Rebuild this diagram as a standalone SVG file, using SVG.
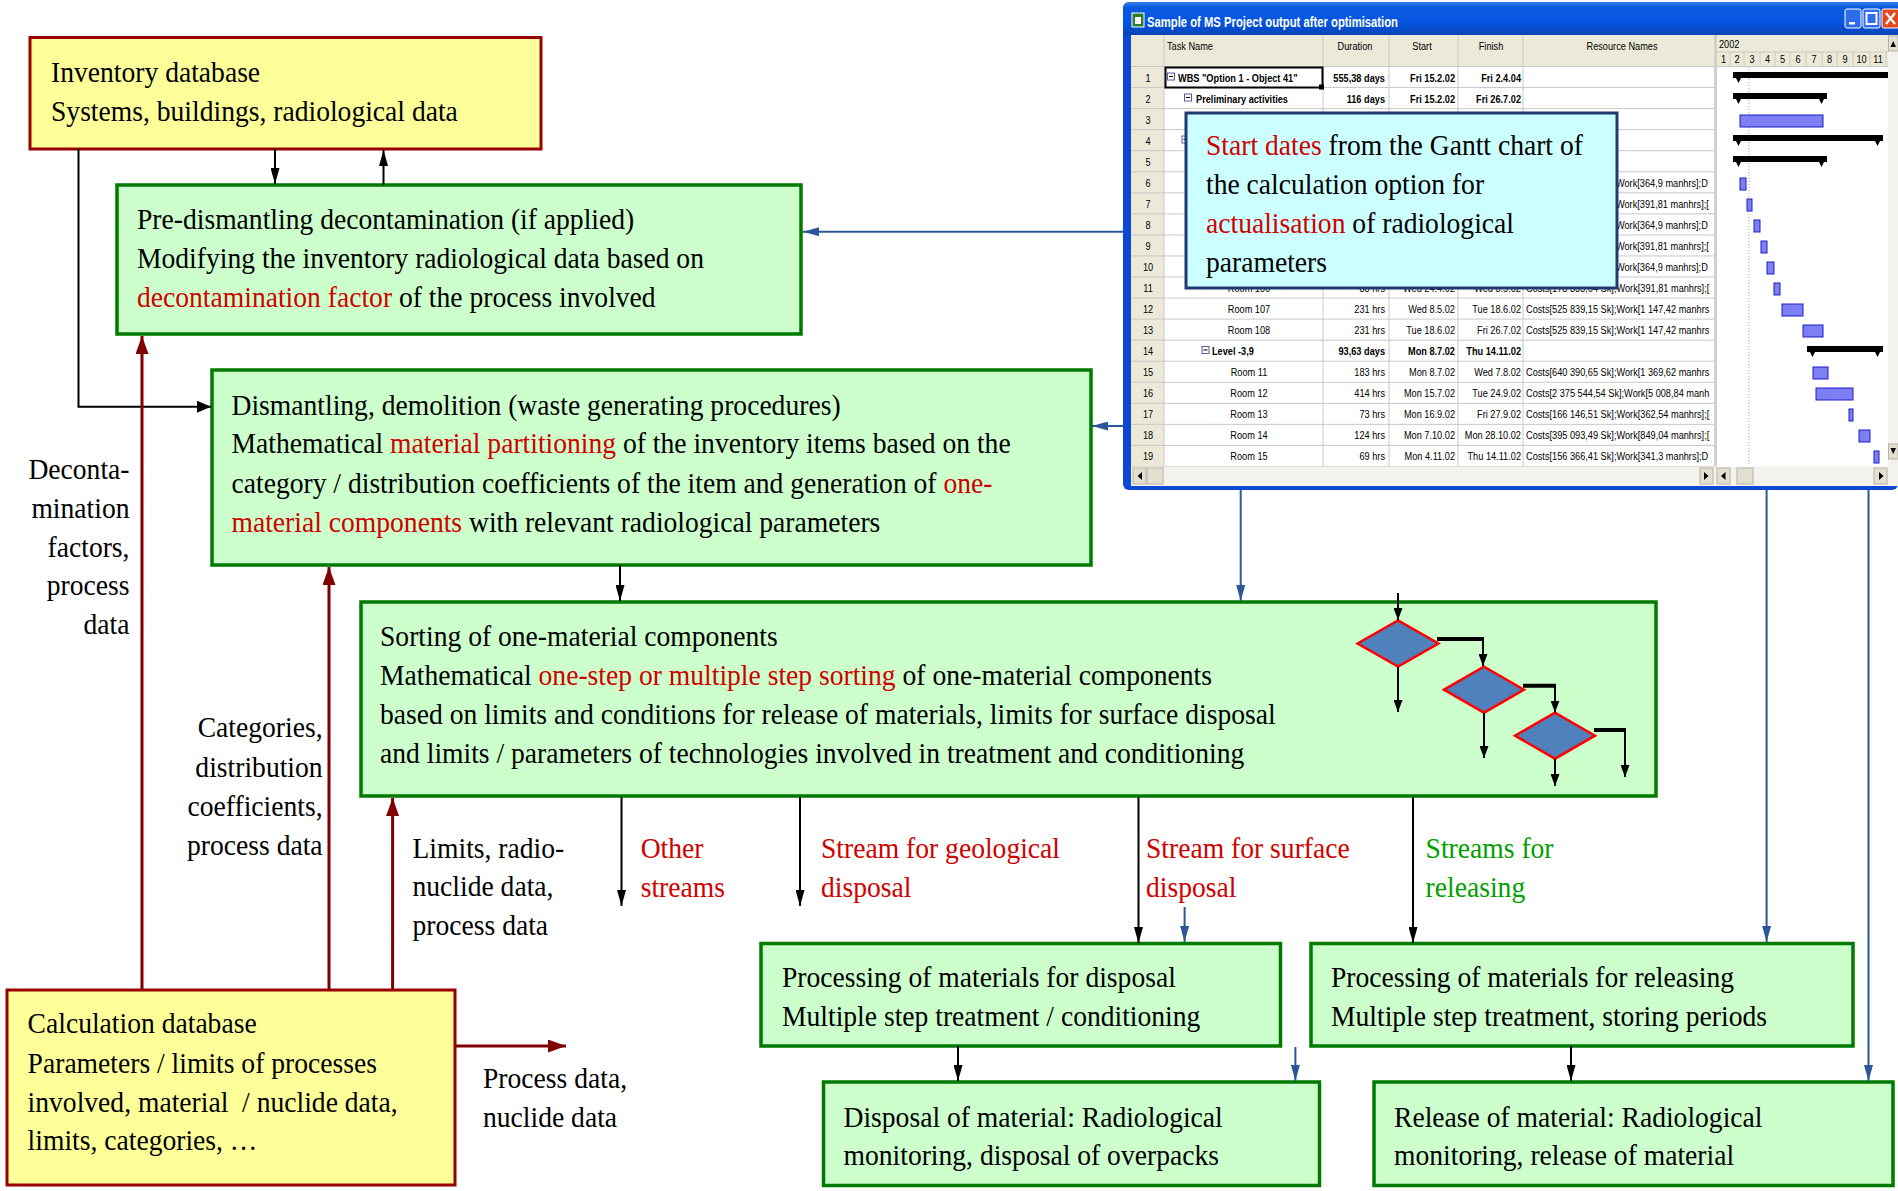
<svg xmlns="http://www.w3.org/2000/svg" width="1898" height="1191" viewBox="0 0 1898 1191">
<style>
.bg{fill:#CCFFCC;stroke:#007A00;stroke-width:3.5}
.by{fill:#FFFF99;stroke:#990000;stroke-width:3}
.t{font-family:"Liberation Serif","Times New Roman",serif;font-size:30px;fill:#000}
.r{fill:#D00000}
.gn{fill:#00A000}
.ea{text-anchor:end}
.k{stroke:#000;stroke-width:2;fill:none}
.bl{stroke:#2B5797;stroke-width:2;fill:none}
.rd{stroke:#800000;stroke-width:3;fill:none}
.tx{font-family:"Liberation Sans",Arial,sans-serif;font-size:11.5px;fill:#000}
.b{font-weight:bold}
.mid{text-anchor:middle}
.grid{stroke:#C8C8C8;stroke-width:1}
.bar{fill:#7F7FF5;stroke:#1C1CC8;stroke-width:1}
.dia{fill:#4F81BD;stroke:#FF0000;stroke-width:2.5}
</style>
<defs>
<marker id="mk" viewBox="0 0 16 9" refX="16" refY="4.5" markerWidth="16" markerHeight="9" markerUnits="userSpaceOnUse" orient="auto"><path d="M0,0L16,4.5L0,9z" fill="#000"/></marker>
<marker id="mb" viewBox="0 0 16 9" refX="16" refY="4.5" markerWidth="16" markerHeight="9" markerUnits="userSpaceOnUse" orient="auto"><path d="M0,0L16,4.5L0,9z" fill="#2B5797"/></marker>
<marker id="mr" viewBox="0 0 18 13" refX="18" refY="6.5" markerWidth="18" markerHeight="13" markerUnits="userSpaceOnUse" orient="auto"><path d="M0,0L18,6.5L0,13z" fill="#800000"/></marker>
<marker id="ms" viewBox="0 0 12 9" refX="12" refY="4.5" markerWidth="12" markerHeight="9" markerUnits="userSpaceOnUse" orient="auto"><path d="M0,0L12,4.5L0,9z" fill="#000"/></marker>
<marker id="mt" viewBox="0 0 14 12" refX="14" refY="6" markerWidth="14" markerHeight="12" markerUnits="userSpaceOnUse" orient="auto"><path d="M0,0L14,6L0,12z" fill="#000"/></marker>
<linearGradient id="tb" x1="0" y1="0" x2="0" y2="1"><stop offset="0" stop-color="#3B7FEA"/><stop offset=".15" stop-color="#0A5BE0"/><stop offset=".6" stop-color="#0555E2"/><stop offset="1" stop-color="#0843B8"/></linearGradient>
<clipPath id="cres"><rect x="1524" y="66" width="189" height="401"/></clipPath>
</defs>
<rect width="1898" height="1191" fill="#fff"/>

<!-- MS Project window -->
<g id="ms-project">
<rect x="1123" y="2" width="775" height="488" rx="6" fill="#0B48D6"/>
<path d="M1123,35V10Q1123,2 1131,2H1898V35Z" fill="url(#tb)"/>
<rect x="1132" y="13" width="12" height="14" fill="#2E7D32" stroke="#fff" stroke-width="1"/>
<rect x="1135" y="17" width="6" height="7" fill="#fff"/>
<text x="1147" y="27" font-family="Liberation Sans,Arial,sans-serif" font-weight="bold" font-size="14" fill="#fff" textLength="251" lengthAdjust="spacingAndGlyphs">Sample of MS Project output after optimisation</text>
<rect x="1845" y="9" width="16" height="19" rx="2" fill="#2D6CEB" stroke="#fff" stroke-width="1"/>
<rect x="1849" y="22" width="6" height="2.5" fill="#fff"/>
<rect x="1863" y="9" width="17" height="19" rx="2" fill="#2D6CEB" stroke="#fff" stroke-width="1"/>
<rect x="1866.5" y="13" width="10" height="11" fill="none" stroke="#fff" stroke-width="2"/>
<rect x="1882" y="9" width="17" height="19" rx="2" fill="#E2481E" stroke="#fff" stroke-width="1"/>
<path d="M1886,13L1895,24M1895,13L1886,24" stroke="#fff" stroke-width="2.2"/>
<rect x="1131" y="35" width="767" height="451" fill="#fff"/>
<!-- headers -->
<rect x="1131" y="35" width="583" height="31.5" fill="#ECE9D8"/>
<rect x="1131" y="35" width="33" height="431.5" fill="#ECE9D8"/>
<rect x="1717" y="35" width="171" height="31.5" fill="#ECE9D8"/>
<rect x="1714" y="35" width="3" height="451" fill="#D4D0C8"/>
<g class="grid">
<path d="M1131,66.5H1714M1131,87.55H1714M1131,108.6H1714M1131,129.65H1714M1131,150.7H1714M1131,171.75H1714M1131,192.8H1714M1131,213.85H1714M1131,234.9H1714M1131,255.95H1714M1131,277H1714M1131,298.05H1714M1131,319.1H1714M1131,340.15H1714M1131,361.2H1714M1131,382.25H1714M1131,403.3H1714M1131,424.35H1714M1131,445.4H1714M1131,466.45H1714"/>
<path d="M1164,35V466.5M1323,35V466.5M1389,35V466.5M1458,35V466.5M1523,35V466.5"/>
<path d="M1717,52H1888M1717,66.5H1888M1730,52V66.5M1744,52V66.5M1760,52V66.5M1775,52V66.5M1790,52V66.5M1806,52V66.5M1822,52V66.5M1837,52V66.5M1853,52V66.5M1870,52V66.5M1886,52V66.5"/>
</g>
<text class="tx" transform="matrix(.8 0 0 1 1167 50)">Task Name</text>
<text class="tx mid" transform="matrix(.8 0 0 1 1355 50)">Duration</text>
<text class="tx mid" transform="matrix(.8 0 0 1 1422 50)">Start</text>
<text class="tx mid" transform="matrix(.8 0 0 1 1491 50)">Finish</text>
<text class="tx mid" transform="matrix(.8 0 0 1 1622 50)">Resource Names</text>
<text class="tx" transform="matrix(.8 0 0 1 1719 48)">2002</text>
<g class="tx mid">
<text transform="matrix(.8 0 0 1 1723.5 63)">1</text><text transform="matrix(.8 0 0 1 1737 63)">2</text><text transform="matrix(.8 0 0 1 1752 63)">3</text><text transform="matrix(.8 0 0 1 1767.5 63)">4</text><text transform="matrix(.8 0 0 1 1782.5 63)">5</text><text transform="matrix(.8 0 0 1 1798 63)">6</text><text transform="matrix(.8 0 0 1 1814 63)">7</text><text transform="matrix(.8 0 0 1 1829.5 63)">8</text><text transform="matrix(.8 0 0 1 1845 63)">9</text><text transform="matrix(.8 0 0 1 1861.5 63)">10</text><text transform="matrix(.8 0 0 1 1878 63)">11</text>
</g>
<!-- row numbers -->
<g class="tx mid">
<text transform="matrix(.8 0 0 1 1148 81.5)">1</text><text transform="matrix(.8 0 0 1 1148 102.6)">2</text><text transform="matrix(.8 0 0 1 1148 123.6)">3</text><text transform="matrix(.8 0 0 1 1148 144.7)">4</text><text transform="matrix(.8 0 0 1 1148 165.7)">5</text><text transform="matrix(.8 0 0 1 1148 186.8)">6</text><text transform="matrix(.8 0 0 1 1148 207.8)">7</text><text transform="matrix(.8 0 0 1 1148 228.9)">8</text><text transform="matrix(.8 0 0 1 1148 249.9)">9</text><text transform="matrix(.8 0 0 1 1148 271)">10</text><text transform="matrix(.8 0 0 1 1148 292)">11</text><text transform="matrix(.8 0 0 1 1148 313)">12</text><text transform="matrix(.8 0 0 1 1148 334)">13</text><text transform="matrix(.8 0 0 1 1148 355)">14</text><text transform="matrix(.8 0 0 1 1148 376)">15</text><text transform="matrix(.8 0 0 1 1148 397)">16</text><text transform="matrix(.8 0 0 1 1148 418)">17</text><text transform="matrix(.8 0 0 1 1148 439)">18</text><text transform="matrix(.8 0 0 1 1148 460.4)">19</text>
</g>
<!-- row 1 selection -->
<rect x="1165.5" y="67.5" width="157" height="20" fill="none" stroke="#000" stroke-width="2"/>
<rect x="1319" y="84.5" width="5" height="5" fill="#000"/>
<!-- expand boxes -->
<g fill="#fff" stroke="#5A5AA0" stroke-width="1">
<rect x="1167.5" y="73" width="7" height="7"/><rect x="1184.5" y="94" width="7" height="7"/><rect x="1182" y="136" width="7" height="7"/><rect x="1202" y="346.5" width="7" height="7"/>
</g>
<path d="M1169,76.5H1173M1186,97.5H1190M1183.5,139.5H1187.5M1203.5,350H1207.5" stroke="#000" stroke-width="1"/>
<!-- task column -->
<text class="tx b" transform="matrix(.8 0 0 1 1178 81.5)">WBS "Option 1 - Object 41"</text>
<text class="tx b" transform="matrix(.8 0 0 1 1196 102.6)">Preliminary activities</text>
<text class="tx b" transform="matrix(.8 0 0 1 1212 355)">Level -3,9</text>
<g class="tx mid">
<text transform="matrix(.8 0 0 1 1249 292)">Room 106</text><text transform="matrix(.8 0 0 1 1249 313)">Room 107</text><text transform="matrix(.8 0 0 1 1249 334)">Room 108</text><text transform="matrix(.8 0 0 1 1249 376)">Room 11</text><text transform="matrix(.8 0 0 1 1249 397)">Room 12</text><text transform="matrix(.8 0 0 1 1249 418)">Room 13</text><text transform="matrix(.8 0 0 1 1249 439)">Room 14</text><text transform="matrix(.8 0 0 1 1249 460.4)">Room 15</text>
</g>
<!-- duration -->
<g class="tx ea">
<text class="b" transform="matrix(.8 0 0 1 1385 81.5)">555,38 days</text><text class="b" transform="matrix(.8 0 0 1 1385 102.6)">116 days</text><text transform="matrix(.8 0 0 1 1385 292)">88 hrs</text><text transform="matrix(.8 0 0 1 1385 313)">231 hrs</text><text transform="matrix(.8 0 0 1 1385 334)">231 hrs</text><text class="b" transform="matrix(.8 0 0 1 1385 355)">93,63 days</text><text transform="matrix(.8 0 0 1 1385 376)">183 hrs</text><text transform="matrix(.8 0 0 1 1385 397)">414 hrs</text><text transform="matrix(.8 0 0 1 1385 418)">73 hrs</text><text transform="matrix(.8 0 0 1 1385 439)">124 hrs</text><text transform="matrix(.8 0 0 1 1385 460.4)">69 hrs</text>
</g>
<!-- start -->
<g class="tx ea">
<text class="b" transform="matrix(.8 0 0 1 1455 81.5)">Fri 15.2.02</text><text class="b" transform="matrix(.8 0 0 1 1455 102.6)">Fri 15.2.02</text><text transform="matrix(.8 0 0 1 1455 292)">Wed 24.4.02</text><text transform="matrix(.8 0 0 1 1455 313)">Wed 8.5.02</text><text transform="matrix(.8 0 0 1 1455 334)">Tue 18.6.02</text><text class="b" transform="matrix(.8 0 0 1 1455 355)">Mon 8.7.02</text><text transform="matrix(.8 0 0 1 1455 376)">Mon 8.7.02</text><text transform="matrix(.8 0 0 1 1455 397)">Mon 15.7.02</text><text transform="matrix(.8 0 0 1 1455 418)">Mon 16.9.02</text><text transform="matrix(.8 0 0 1 1455 439)">Mon 7.10.02</text><text transform="matrix(.8 0 0 1 1455 460.4)">Mon 4.11.02</text>
</g>
<!-- finish -->
<g class="tx ea">
<text class="b" transform="matrix(.8 0 0 1 1521 81.5)">Fri 2.4.04</text><text class="b" transform="matrix(.8 0 0 1 1521 102.6)">Fri 26.7.02</text><text transform="matrix(.8 0 0 1 1521 292)">Wed 8.5.02</text><text transform="matrix(.8 0 0 1 1521 313)">Tue 18.6.02</text><text transform="matrix(.8 0 0 1 1521 334)">Fri 26.7.02</text><text class="b" transform="matrix(.8 0 0 1 1521 355)">Thu 14.11.02</text><text transform="matrix(.8 0 0 1 1521 376)">Wed 7.8.02</text><text transform="matrix(.8 0 0 1 1521 397)">Tue 24.9.02</text><text transform="matrix(.8 0 0 1 1521 418)">Fri 27.9.02</text><text transform="matrix(.8 0 0 1 1521 439)">Mon 28.10.02</text><text transform="matrix(.8 0 0 1 1521 460.4)">Thu 14.11.02</text>
</g>
<!-- resources -->
<g class="tx" clip-path="url(#cres)">
<text transform="matrix(.8 0 0 1 1616 186.8)">Work[364,9 manhrs];D</text><text transform="matrix(.8 0 0 1 1616 207.8)">Work[391,81 manhrs];[</text><text transform="matrix(.8 0 0 1 1616 228.9)">Work[364,9 manhrs];D</text><text transform="matrix(.8 0 0 1 1616 249.9)">Work[391,81 manhrs];[</text><text transform="matrix(.8 0 0 1 1616 271)">Work[364,9 manhrs];D</text>
<text transform="matrix(.8 0 0 1 1526 292)">Costs[178 333,64 Sk];Work[391,81 manhrs];[</text>
<text transform="matrix(.8 0 0 1 1526 313)">Costs[525 839,15 Sk];Work[1 147,42 manhrs</text>
<text transform="matrix(.8 0 0 1 1526 334)">Costs[525 839,15 Sk];Work[1 147,42 manhrs</text>
<text transform="matrix(.8 0 0 1 1526 376)">Costs[640 390,65 Sk];Work[1 369,62 manhrs</text>
<text transform="matrix(.8 0 0 1 1526 397)">Costs[2 375 544,54 Sk];Work[5 008,84 manh</text>
<text transform="matrix(.8 0 0 1 1526 418)">Costs[166 146,51 Sk];Work[362,54 manhrs];[</text>
<text transform="matrix(.8 0 0 1 1526 439)">Costs[395 093,49 Sk];Work[849,04 manhrs];[</text>
<text transform="matrix(.8 0 0 1 1526 460.4)">Costs[156 366,41 Sk];Work[341,3 manhrs];D</text>
</g>
<!-- gantt -->
<path d="M1749,67V466" stroke="#9A9A9A" stroke-width="1" stroke-dasharray="1,2"/>
<g fill="#000">
<rect x="1733" y="72" width="155" height="6"/><polygon points="1733,72 1744,72 1738.5,83"/>
<rect x="1733" y="93" width="94" height="6"/><polygon points="1733,93 1744,93 1738.5,104"/><polygon points="1816,93 1827,93 1821.5,104"/>
<rect x="1733" y="135" width="150" height="6"/><polygon points="1733,135 1744,135 1738.5,146"/><polygon points="1872,135 1883,135 1877.5,146"/>
<rect x="1733" y="156" width="94" height="6"/><polygon points="1733,156 1744,156 1738.5,167"/><polygon points="1816,156 1827,156 1821.5,167"/>
<rect x="1807" y="346" width="76" height="6"/><polygon points="1807,346 1818,346 1812.5,357"/><polygon points="1872,346 1883,346 1877.5,357"/>
</g>
<g class="bar">
<rect x="1740" y="115" width="83" height="12"/>
<rect x="1740" y="178" width="6" height="12"/><rect x="1747" y="199" width="5" height="12"/><rect x="1754" y="220" width="6" height="12"/><rect x="1761" y="241" width="6" height="12"/><rect x="1767" y="262" width="7" height="12"/><rect x="1774" y="283" width="6" height="12"/><rect x="1782" y="304" width="21" height="12"/><rect x="1803" y="325" width="20" height="12"/><rect x="1813" y="367" width="15" height="12"/><rect x="1816" y="388" width="37" height="12"/><rect x="1849" y="409" width="4" height="12"/><rect x="1859" y="430" width="11" height="12"/><rect x="1874" y="451" width="5" height="12"/>
</g>
<!-- scrollbars -->
<rect x="1888" y="35" width="10" height="431" fill="#F3F2EC"/>
<rect x="1888.5" y="36" width="9.5" height="15" fill="#E3E0D2" stroke="#B8B4A4" stroke-width="1"/>
<polygon points="1890.5,47 1896,47 1893.2,41" fill="#000"/>
<rect x="1888.5" y="444" width="9.5" height="15" fill="#E3E0D2" stroke="#B8B4A4" stroke-width="1"/>
<polygon points="1890.5,448 1896,448 1893.2,454" fill="#000"/>
<rect x="1131" y="466.5" width="767" height="19.5" fill="#F3F2EC"/>
<rect x="1133" y="468" width="13" height="16" fill="#E3E0D2" stroke="#B8B4A4" stroke-width="1"/>
<polygon points="1142,472 1142,480 1137.5,476" fill="#000"/>
<rect x="1147" y="468" width="16" height="16" fill="#E3E0D2" stroke="#B8B4A4" stroke-width="1"/>
<rect x="1700" y="468" width="13" height="16" fill="#E3E0D2" stroke="#B8B4A4" stroke-width="1"/>
<polygon points="1704,472 1704,480 1708.5,476" fill="#000"/>
<rect x="1717" y="468" width="13" height="16" fill="#E3E0D2" stroke="#B8B4A4" stroke-width="1"/>
<polygon points="1725.5,472 1725.5,480 1721,476" fill="#000"/>
<rect x="1737" y="468" width="16" height="16" fill="#E3E0D2" stroke="#B8B4A4" stroke-width="1"/>
<rect x="1874" y="468" width="13" height="16" fill="#E3E0D2" stroke="#B8B4A4" stroke-width="1"/>
<polygon points="1879,472 1879,480 1883.5,476" fill="#000"/>
</g>

<!-- Gantt note -->
<g id="gantt-note">
<rect x="1186" y="113" width="431" height="175" fill="#CCFFFF" stroke="#1F3A70" stroke-width="3"/>
<text class="t" transform="matrix(.92 0 0 1 1206 155)"><tspan x="0" y="0"><tspan class="r">Start dates</tspan> from the Gantt chart of</tspan><tspan x="0" y="39">the calculation option for</tspan><tspan x="0" y="78"><tspan class="r">actualisation</tspan> of radiological</tspan><tspan x="0" y="117">parameters</tspan></text>
</g>

<!-- Nodes -->
<g id="inventory">
<rect class="by" x="30" y="37.5" width="511" height="111.5"/>
<text class="t" transform="matrix(.92 0 0 1 51 82)"><tspan x="0" y="0">Inventory database</tspan><tspan x="0" y="39">Systems, buildings, radiological data</tspan></text>
</g>
<g id="predismantling">
<rect class="bg" x="117" y="185" width="684" height="149"/>
<text class="t" transform="matrix(.92 0 0 1 137 229)"><tspan x="0" y="0">Pre-dismantling decontamination (if applied)</tspan><tspan x="0" y="39">Modifying the inventory radiological data based on</tspan><tspan x="0" y="78"><tspan class="r">decontamination factor</tspan> of the process involved</tspan></text>
</g>
<g id="dismantling">
<rect class="bg" x="212" y="370" width="879" height="195"/>
<text class="t" transform="matrix(.92 0 0 1 231.5 415)"><tspan x="0" y="0">Dismantling, demolition (waste generating procedures)</tspan><tspan x="0" y="38.5">Mathematical <tspan class="r">material partitioning</tspan> of the inventory items based on the</tspan><tspan x="0" y="78">category / distribution coefficients of the item and generation of <tspan class="r">one-</tspan></tspan><tspan x="0" y="117"><tspan class="r">material components</tspan> with relevant radiological parameters</tspan></text>
</g>
<g id="sorting">
<rect class="bg" x="361" y="602" width="1295" height="194"/>
<text class="t" transform="matrix(.92 0 0 1 380 646)"><tspan x="0" y="0">Sorting of one-material components</tspan><tspan x="0" y="39">Mathematical <tspan class="r">one-step or multiple step sorting</tspan> of one-material components</tspan><tspan x="0" y="78">based on limits and conditions for release of materials, limits for surface disposal</tspan><tspan x="0" y="117">and limits / parameters of technologies involved in treatment and conditioning</tspan></text>
<polygon class="dia" points="1357.5,643.5 1398,620.5 1438.5,643.5 1398,666.5"/>
<polygon class="dia" points="1444,689.7 1484,666.7 1524,689.7 1484,712.7"/>
<polygon class="dia" points="1515,735.7 1555,712.7 1595,735.7 1555,758.7"/>
<g stroke="#000" fill="none">
<path d="M1398,593V620" stroke-width="2" marker-end="url(#ms)"/>
<path d="M1398,667V712" stroke-width="2" marker-end="url(#ms)"/>
<path d="M1437,639H1484" stroke-width="4"/>
<path d="M1483,639V666" stroke-width="2" marker-end="url(#ms)"/>
<path d="M1484,713V758" stroke-width="2" marker-end="url(#ms)"/>
<path d="M1523,685.7H1556" stroke-width="4"/>
<path d="M1555,685.7V712.5" stroke-width="2" marker-end="url(#ms)"/>
<path d="M1555,759V786" stroke-width="2" marker-end="url(#ms)"/>
<path d="M1594,730H1626" stroke-width="4"/>
<path d="M1625,730V777" stroke-width="2" marker-end="url(#ms)"/>
</g>
</g>
<g id="calc-db">
<rect class="by" x="7" y="990" width="448" height="195"/>
<text class="t" transform="matrix(.92 0 0 1 27.6 1033)" xml:space="preserve"><tspan x="0" y="0">Calculation database</tspan><tspan x="0" y="40">Parameters / limits of processes</tspan><tspan x="0" y="79">involved, material  / nuclide data,</tspan><tspan x="0" y="117">limits, categories, …</tspan></text>
</g>
<g id="proc-disposal">
<rect class="bg" x="761" y="943.5" width="519.5" height="102.5"/>
<text class="t" transform="matrix(.92 0 0 1 782 987)"><tspan x="0" y="0">Processing of materials for disposal</tspan><tspan x="0" y="39.5">Multiple step treatment / conditioning</tspan></text>
</g>
<g id="proc-release">
<rect class="bg" x="1311" y="943.5" width="542" height="102.5"/>
<text class="t" transform="matrix(.92 0 0 1 1331 987)"><tspan x="0" y="0">Processing of materials for releasing</tspan><tspan x="0" y="39.5">Multiple step treatment, storing periods</tspan></text>
</g>
<g id="disposal">
<rect class="bg" x="823.5" y="1082" width="496" height="103.5"/>
<text class="t" transform="matrix(.92 0 0 1 843.5 1126.7)"><tspan x="0" y="0">Disposal of material: Radiological</tspan><tspan x="0" y="38.5">monitoring, disposal of overpacks</tspan></text>
</g>
<g id="release">
<rect class="bg" x="1374" y="1082" width="519" height="103.5"/>
<text class="t" transform="matrix(.92 0 0 1 1394 1126.7)"><tspan x="0" y="0">Release of material: Radiological</tspan><tspan x="0" y="38.5">monitoring, release of material</tspan></text>
</g>

<!-- Connectors -->
<g id="connectors">
<path class="k" d="M275,149V184" marker-end="url(#mk)"/>
<path class="k" d="M383.5,185V150" marker-end="url(#mk)"/>
<path class="k" d="M78.5,149V406.7H211" stroke-width="3" marker-end="url(#mt)"/>
<path class="k" d="M620,565V601" marker-end="url(#mk)"/>
<path class="k" d="M621.5,797V906"  marker-end="url(#mk)"/>
<path class="k" d="M800,797V906" marker-end="url(#mk)"/>
<path class="k" d="M1138.5,797V943" marker-end="url(#mk)"/>
<path class="k" d="M1413,797V943" marker-end="url(#mk)"/>
<path class="k" d="M958,1046V1081" marker-end="url(#mk)"/>
<path class="k" d="M1571,1046V1081" marker-end="url(#mk)"/>
<path class="bl" d="M1123,231.7H803" marker-end="url(#mb)"/>
<path class="bl" d="M1123,426H1092" marker-end="url(#mb)"/>
<path class="bl" d="M1240.7,490V601" marker-end="url(#mb)"/>
<path class="bl" d="M1766.6,490V942" marker-end="url(#mb)"/>
<path class="bl" d="M1868.5,490V1081" marker-end="url(#mb)"/>
<path class="bl" d="M1184.6,907V942" marker-end="url(#mb)"/>
<path class="bl" d="M1295.4,1047V1081" marker-end="url(#mb)"/>
<path class="rd" d="M142,990V336" marker-end="url(#mr)"/>
<path class="rd" d="M329,990V567" marker-end="url(#mr)"/>
<path class="rd" d="M392.6,990V798" marker-end="url(#mr)"/>
<path class="rd" d="M455,1046H566" marker-end="url(#mr)"/>
</g>

<!-- Labels -->
<g id="labels">
<text class="t ea" transform="matrix(.92 0 0 1 129.5 479)"><tspan x="0" y="0">Deconta-</tspan><tspan x="0" y="39">mination</tspan><tspan x="0" y="78">factors,</tspan><tspan x="0" y="116">process</tspan><tspan x="0" y="155">data</tspan></text>
<text class="t ea" transform="matrix(.92 0 0 1 322.6 737)"><tspan x="0" y="0">Categories,</tspan><tspan x="0" y="40">distribution</tspan><tspan x="0" y="79">coefficients,</tspan><tspan x="0" y="118">process data</tspan></text>
<text class="t" transform="matrix(.92 0 0 1 412.5 857.5)"><tspan x="0" y="0">Limits, radio-</tspan><tspan x="0" y="39">nuclide data,</tspan><tspan x="0" y="78">process data</tspan></text>
<text class="t" transform="matrix(.92 0 0 1 483 1088)"><tspan x="0" y="0">Process data,</tspan><tspan x="0" y="39">nuclide data</tspan></text>
<text class="t r" transform="matrix(.92 0 0 1 640.7 858)"><tspan x="0" y="0">Other</tspan><tspan x="0" y="39">streams</tspan></text>
<text class="t r" transform="matrix(.92 0 0 1 821 858)"><tspan x="0" y="0">Stream for geological</tspan><tspan x="0" y="39">disposal</tspan></text>
<text class="t r" transform="matrix(.92 0 0 1 1146 858)"><tspan x="0" y="0">Stream for surface</tspan><tspan x="0" y="39">disposal</tspan></text>
<text class="t gn" transform="matrix(.92 0 0 1 1425.6 858)"><tspan x="0" y="0">Streams for</tspan><tspan x="0" y="39">releasing</tspan></text>
</g>
</svg>
